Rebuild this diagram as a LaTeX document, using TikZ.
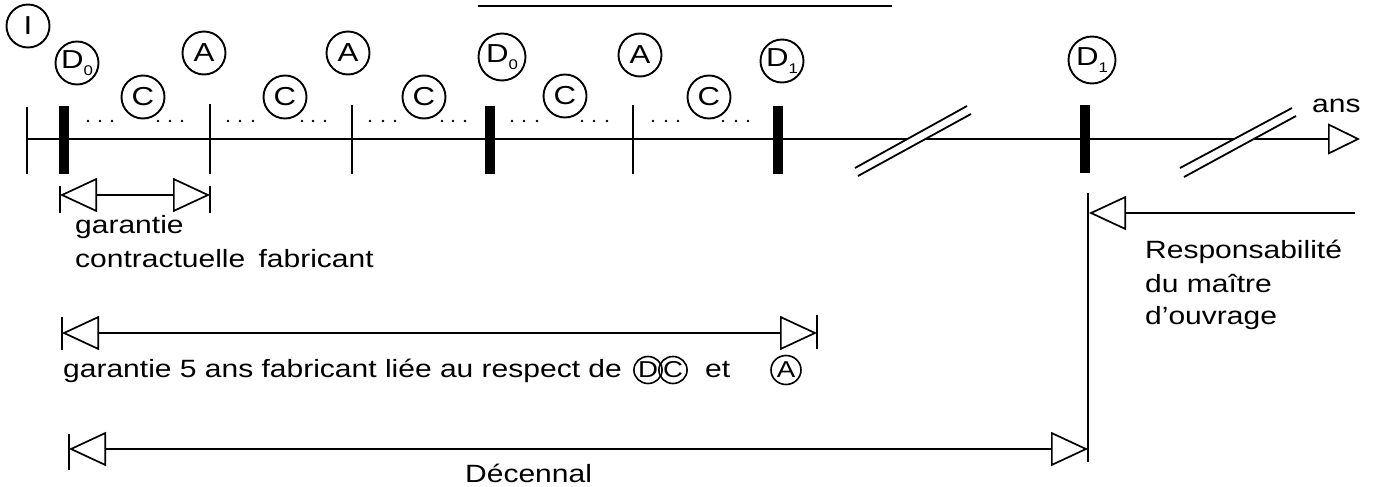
\documentclass[tikz,border=0pt]{standalone}
\usepackage{fontspec}
\setmainfont{Liberation Sans}[FakeStretch=1.2]
\usetikzlibrary{arrows.meta,shapes.geometric}
\begin{document}
\begin{tikzpicture}[x=1pt,y=-1pt,
  axisline/.style={line width=2pt},
  minortick/.style={line width=2pt},
  heavybar/.style={line width=10.5pt},
  ring/.style={circle, draw, line width=1.9pt, inner sep=0pt, minimum size=43pt,
               font=\fontsize{26}{26}\selectfont},
  bigring/.style={ring, minimum size=47pt},
  minring/.style={ellipse, draw, line width=1.6pt, inner sep=0pt,
               minimum width=23pt, minimum height=27pt, font=\fontsize{23}{23}\selectfont},
  opentip/.tip={Triangle[open,length=37pt,width=34pt,line width=1.7pt,fill=white]},
  span/.style={line width=2.8pt},
  label/.style={inner sep=0pt, anchor=base west, font=\fontsize{25}{34}\selectfont, align=left},
  dot/.style={fill, circle, inner sep=0pt, minimum size=2.6pt},
  breakfill/.style={fill=white, draw=none},
  breakline/.style={line width=1.8pt}
]
\useasboundingbox (0,0) rectangle (1374,487);

% sub-index helper for the D markers
\newcommand{\dsub}[1]{D\raisebox{-7pt}{\fontsize{14}{14}\selectfont #1}}

% ---- top rule
\coordinate (ruleL) at (478,6);
\coordinate (ruleR) at (892,6);
\draw[line width=1.8pt] (ruleL) -- (ruleR);

% ---- time axis
\coordinate (ax0) at (27,139);
\coordinate (axEnd) at (1360,139);
\draw[axisline, -{Triangle[open,length=32pt,width=31pt,line width=1.7pt,fill=white]}] (ax0) -- (axEnd);
\node[label] (ans) at (1312,113) {ans};

% break marks on the axis
\fill[breakfill] (855,168) -- (967,106) -- (971,114) -- (858,176) -- cycle;
\draw[breakline] (855,168) -- (967,106);
\draw[breakline] (858,176) -- (971,114);
\fill[breakfill] (1180,168) -- (1292,108) -- (1296,116) -- (1184,177) -- cycle;
\draw[breakline] (1180,168) -- (1292,108);
\draw[breakline] (1184,177) -- (1296,116);

% ticks (thin) and delivery bars (thick)
\draw[minortick] (27,107) -- (27,174);
\draw[minortick] (210,104) -- (210,174);
\draw[minortick] (352,105) -- (352,174);
\draw[minortick] (633,105) -- (633,174);
\draw[heavybar] (64,106) -- (64,174);
\draw[heavybar] (490,106) -- (490,174);
\draw[heavybar] (778,106) -- (778,174);
\draw[heavybar] (1085,105) -- (1085,173);

% dotted runs between ticks
\foreach \x in {88,100,112,158,170,182,
                228,240,253,302,313,325,
                370,383,395,442,453,465,
                512,524,537,582,594,607,
                653,666,678,723,736,748}
  \node[dot] at (\x,121) {};

% ---- circled markers
\node[ring] (mI) at (28,26) {I};
\node[ring] (mD0a) at (77,63) {\dsub{0}};
\node[ring] (mA1) at (204,53) {A};
\node[ring] (mA2) at (348,53) {A};
\node[bigring] (mD0b) at (502,57) {\dsub{0}};
\node[ring] (mA3) at (640,55) {A};
\node[ring] (mD1) at (782,61) {\dsub{1}};
\node[bigring] (mD2) at (1092,60) {\dsub{1}};
\node[ring] (mC1) at (143,97) {C};
\node[ring] (mC2) at (285,97) {C};
\node[ring] (mC3) at (424,97) {C};
\node[ring] (mC4) at (565,96) {C};
\node[ring] (mC5) at (709,97) {C};

% ---- contractual guarantee
\coordinate (gcL) at (60,195);
\coordinate (gcR) at (210,195);
\draw[span, opentip-opentip] (gcL) -- (gcR);
\draw[minortick] (60,186) -- (60,213);
\draw[minortick] (210,186) -- (210,213);
\node[label] (gcT1) at (75,233) {garantie};
\node[label] (gcT2) at (75,267) {contractuelle\hspace{5pt} fabricant};

% ---- five-year guarantee
\coordinate (g5L) at (62,333);
\coordinate (g5R) at (817,333);
\draw[span, opentip-opentip] (g5L) -- (g5R);
\draw[minortick] (62,317) -- (62,350);
\draw[minortick] (817,315) -- (817,349);
\node[label] (g5T) at (63,377) {garantie 5 ans fabricant liée au respect de};
\node[minring] (g5D) at (648,370) {D};
\node[minring] (g5C) at (673,370) {C};
\node[label] (g5et) at (705,377) {et};
\node[minring, minimum width=30pt, minimum height=29pt] (g5A) at (786,370) {A};

% ---- owner's responsibility and ten-year span
\coordinate (resTop) at (1088,193);
\coordinate (resBot) at (1088,462);
\draw[minortick] (resTop) -- (resBot);
\coordinate (resR) at (1355,213);
\coordinate (resTip) at (1089,213);
\draw[span, -opentip] (resR) -- (resTip);
\node[label] (resT1) at (1145,258) {Responsabilité};
\node[label] (resT2) at (1145,292) {du maître};
\node[label] (resT3) at (1145,324) {d'ouvrage};

\coordinate (decL) at (69,449);
\coordinate (decR) at (1088,449);
\draw[span, opentip-opentip] (decL) -- (decR);
\draw[minortick] (69,434) -- (69,470);
\node[label] (decT) at (465,482) {Décennal};
\end{tikzpicture}
\end{document}
